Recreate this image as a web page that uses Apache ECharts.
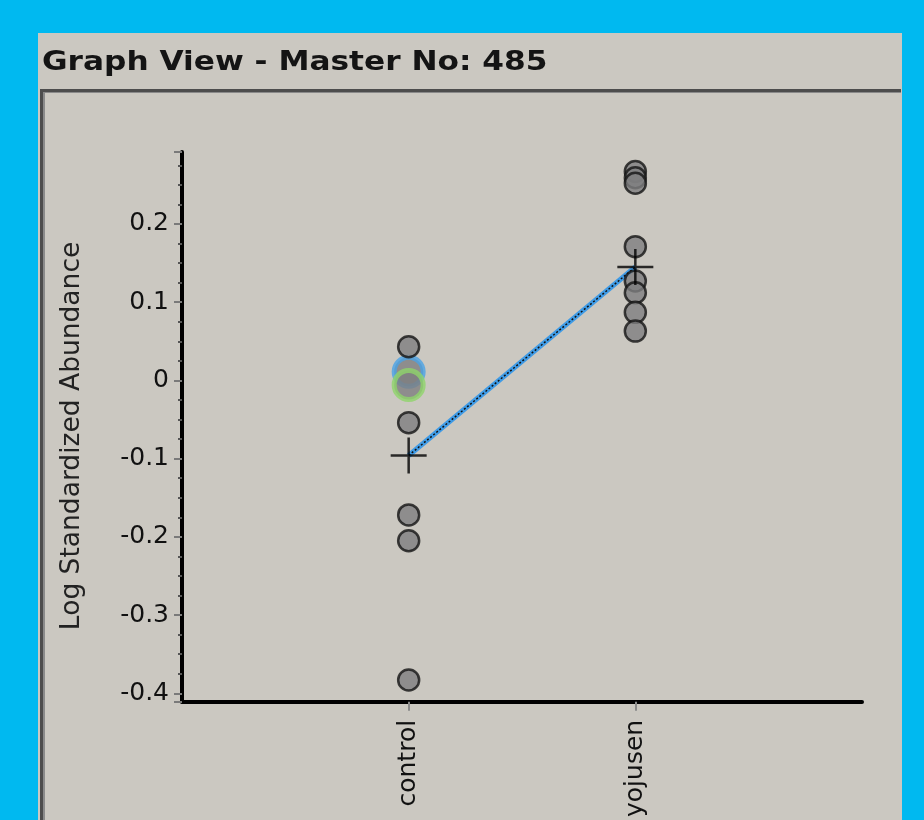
<!DOCTYPE html>
<html>
<head>
<meta charset="utf-8">
<script src="https://cdn.jsdelivr.net/npm/echarts@6/dist/echarts.min.js"></script>
<style>
  html, body { margin: 0; padding: 0; background: #00B9F0; }
  #chart { width: 924px; height: 820px; }
</style>
</head>
<body>
<div id="chart"></div>
<script>
// Groups on the x axis
const categories = ['control', 'yojusen'];

// Individual replicate values (log standardized abundance)
const controlValues = [0.043, -0.054, -0.172, -0.205, -0.383];
const yojusenValues = [0.267, 0.259, 0.252, 0.171, 0.127, 0.112, 0.087, 0.063];

// Selected replicates drawn with a coloured halo (control group)
const blueMarked = [0.011];
const greenMarked = [-0.006];

// Group means
const means = [-0.096, 0.145];

// Y axis range
const yMin = -0.411;
const yMax = 0.292;

const FONT = 'DejaVu Sans';

// Category axis padded with an empty slot at each end
const axisCats = [''].concat(categories, ['']);
const isGroup = (i) => i > 0 && i <= categories.length;

const toPoints = (cat, arr) => arr.map(v => [cat, v]);

const chart = echarts.init(document.getElementById('chart'), null, { renderer: 'canvas' });

const greyPoint = {
  color: '#7e7e80',
  borderColor: '#141414',
  borderWidth: 2.5
};

chart.setOption({
  backgroundColor: '#00B9F0',
  animation: false,
  graphic: [
    { type: 'rect', z: -10, silent: true,
      shape: { x: 38, y: 33, width: 864, height: 800 },
      style: { fill: '#CBC8C1' } },
    { type: 'text', z: 1, silent: true, x: 42, y: 50, scaleX: 1.2,
      style: { text: 'Graph View - Master No: 485', font: 'bold 26px "DejaVu Sans"',
               fill: '#141414', textVerticalAlign: 'top' } },
    // sunken frame around the plot
    { type: 'line', z: 1, silent: true,
      shape: { x1: 41, y1: 90.5, x2: 901, y2: 90.5 },
      style: { stroke: '#4d4d4d', lineWidth: 3 } },
    { type: 'line', z: 1, silent: true,
      shape: { x1: 43, y1: 92.5, x2: 901, y2: 92.5 },
      style: { stroke: '#8a8a8a', lineWidth: 1 } },
    { type: 'line', z: 1, silent: true,
      shape: { x1: 41.5, y1: 89, x2: 41.5, y2: 820 },
      style: { stroke: '#4d4d4d', lineWidth: 3 } },
    { type: 'line', z: 1, silent: true,
      shape: { x1: 44, y1: 92, x2: 44, y2: 820 },
      style: { stroke: '#8a8a8a', lineWidth: 2 } }
  ],
  grid: { left: 182, right: 62, top: 152, bottom: 118, containLabel: false },
  xAxis: {
    type: 'category',
    data: axisCats,
    boundaryGap: false,
    axisLine: { show: true, onZero: false, lineStyle: { color: '#000', width: 4 } },
    axisTick: { show: true, interval: isGroup, length: 9,
                lineStyle: { color: '#8a8a8a', width: 2 } },
    axisLabel: { interval: isGroup, rotate: 90, margin: 18,
                 fontFamily: FONT, fontSize: 25, color: '#111' },
    splitLine: { show: false }
  },
  yAxis: {
    type: 'value',
    min: yMin,
    max: yMax,
    splitNumber: 7,
    name: 'Log Standardized Abundance',
    nameLocation: 'middle',
    nameGap: 96,
    nameTextStyle: { fontFamily: FONT, fontSize: 26.5, color: '#222', padding: [0, 18, 0, 0] },
    axisLine: { show: true, lineStyle: { color: '#000', width: 4 } },
    axisTick: { show: true, length: 8, lineStyle: { color: '#7a7a7a', width: 2 } },
    minorTick: { show: true, splitNumber: 4, length: 4,
                 lineStyle: { color: '#555', width: 2 } },
    splitLine: { show: false },
    minorSplitLine: { show: false },
    axisLabel: {
      margin: 13, fontFamily: FONT, fontSize: 25, color: '#111',
      showMinLabel: false, showMaxLabel: false,
      formatter: (v) => {
        const k = Math.round(v * 10);
        if (Math.abs(v * 10 - k) > 1e-6) return '';
        return k === 0 ? '0' : (k / 10).toFixed(1);
      }
    }
  },
  series: [
    { type: 'line', name: 'mean-line', z: 2,
      data: categories.map((c, i) => [c, means[i]]),
      symbol: 'none',
      lineStyle: { color: '#3f9be6', width: 5 } },
    { type: 'line', name: 'mean-line-core', z: 3,
      data: categories.map((c, i) => [c, means[i]]),
      symbol: 'none',
      lineStyle: { color: '#111', width: 1.5, type: [2, 2] } },
    { type: 'scatter', name: 'blue', z: 4,
      data: toPoints(categories[0], blueMarked),
      symbolSize: 29,
      itemStyle: { color: '#7e7e80', borderColor: '#4aa3e6', borderWidth: 5 } },
    { type: 'scatter', name: 'green', z: 5,
      data: toPoints(categories[0], greenMarked),
      symbolSize: 29,
      itemStyle: { color: '#7e7e80', borderColor: '#8ed46a', borderWidth: 5 } },
    { type: 'scatter', name: 'control', z: 6,
      data: toPoints(categories[0], controlValues),
      symbolSize: 21, itemStyle: greyPoint },
    { type: 'scatter', name: 'yojusen', z: 6,
      data: toPoints(categories[1], yojusenValues),
      symbolSize: 21, itemStyle: greyPoint },
    { type: 'scatter', name: 'mean', z: 8,
      data: categories.map((c, i) => [c, means[i]]),
      symbol: 'path://M0,18 L36,18 M18,0 L18,36',
      symbolSize: [36, 36],
      itemStyle: { color: 'rgba(0,0,0,0)', borderColor: '#000', borderWidth: 2.5 } }
  ]
});
</script>
</body>
</html>
